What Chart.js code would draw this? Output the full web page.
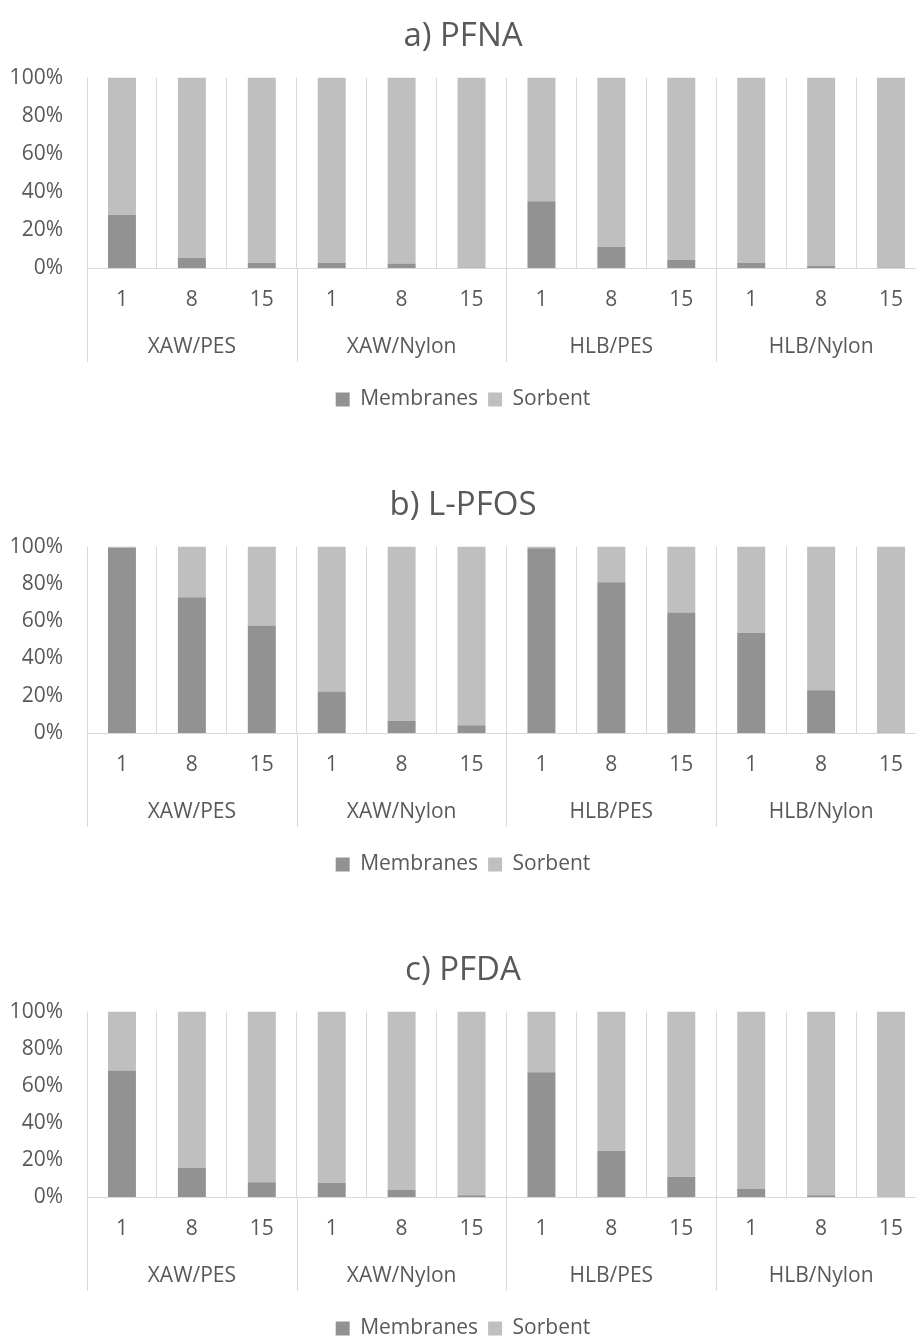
<!DOCTYPE html>
<html>
<head>
<meta charset="utf-8">
<script src="https://cdn.jsdelivr.net/npm/chart.js@4"></script>
<style>
  html, body { margin: 0; padding: 0; background: #fff; overflow: hidden; width: 916px; height: 1337px; }
  canvas { position: absolute; left: 0; }
</style>
</head>
<body>
<canvas id="chart-a" width="940" height="420" style="top:0px"></canvas>
<canvas id="chart-b" width="940" height="416" style="top:469px"></canvas>
<canvas id="chart-c" width="940" height="415" style="top:934px"></canvas>
<script>
const categories = ['1', '8', '15', '1', '8', '15', '1', '8', '15', '1', '8', '15'];
const groups = ['XAW/PES', 'XAW/Nylon', 'HLB/PES', 'HLB/Nylon'];
const seriesNames = ['Membranes', 'Sorbent'];

const pfnaMembranes = [28, 5.4, 2.8, 2.8, 2.3, 0.3, 35, 11, 4.2, 2.6, 1.0, 0.2];
const pfnaSorbent = [72, 94.6, 97.2, 97.2, 97.7, 99.7, 65, 89, 95.8, 97.4, 99.0, 99.8];

const pfosMembranes = [99.3, 72.8, 57.7, 22.3, 6.6, 4.1, 99.1, 80.9, 64.6, 53.8, 22.9, 0.3];
const pfosSorbent = [0.7, 27.2, 42.3, 77.7, 93.4, 95.9, 0.9, 19.1, 35.4, 46.2, 77.1, 99.7];

const pfdaMembranes = [68.2, 15.6, 8.0, 7.5, 3.8, 0.9, 67.3, 24.9, 10.9, 4.3, 0.9, 0.2];
const pfdaSorbent = [31.8, 84.4, 92.0, 92.5, 96.2, 99.1, 32.7, 75.1, 89.1, 95.7, 99.1, 99.8];

const COLORS = {
  membranes: '#929292',
  sorbent: '#bfbfbf',
  text: '#595959',
  grid: '#d9d9d9',
};
const FONT = "'Open Sans', sans-serif";

// group labels + separators under the category axis
const groupAxis = {
  id: 'groupAxis',
  afterDraw(chart) {
    const x = chart.scales.x;
    const area = chart.chartArea;
    const ctx = chart.ctx;
    const half = (x.getPixelForValue(1) - x.getPixelForValue(0)) / 2;
    ctx.save();
    ctx.strokeStyle = COLORS.grid;
    ctx.lineWidth = 1;
    for (let g = 0; g <= groups.length; g++) {
      const px = Math.round(x.getPixelForValue(g * 3) - half) + 0.5;
      ctx.beginPath();
      ctx.moveTo(px, area.bottom);
      ctx.lineTo(px, area.bottom + 94);
      ctx.stroke();
    }
    ctx.fillStyle = COLORS.text;
    ctx.font = `21px ${FONT}`;
    ctx.textAlign = 'center';
    ctx.textBaseline = 'middle';
    groups.forEach((name, g) => {
      ctx.fillText(name, x.getPixelForValue(g * 3 + 1), area.bottom + 79);
    });
    ctx.restore();
  },
};

function makeChart(id, title, membranes, sorbent) {
  const ctx = document.getElementById(id);
  return new Chart(ctx, {
    type: 'bar',
    data: {
      labels: categories,
      datasets: [
        { label: seriesNames[0], data: membranes, backgroundColor: COLORS.membranes, categoryPercentage: 1, barPercentage: 0.4 },
        { label: seriesNames[1], data: sorbent, backgroundColor: COLORS.sorbent, categoryPercentage: 1, barPercentage: 0.4 },
      ],
    },
    options: {
      responsive: false,
      animation: false,
      layout: { padding: { left: 0, right: 14, top: 0, bottom: 0 } },
      plugins: {
        title: {
          display: true,
          text: title,
          color: COLORS.text,
          font: { family: FONT, size: 33, weight: 'normal' },
          padding: { top: 17, bottom: 21 },
        },
        legend: {
          position: 'bottom',
          labels: {
            color: COLORS.text,
            font: { family: FONT, size: 21 },
            boxWidth: 14,
            boxHeight: 14,
            padding: 10,
          },
        },
        tooltip: { enabled: false },
      },
      scales: {
        x: {
          stacked: true,
          grid: { color: COLORS.grid, offset: true, drawTicks: false },
          border: { color: COLORS.grid },
          ticks: { color: COLORS.text, font: { family: FONT, size: 21 }, padding: 19, maxRotation: 0, autoSkip: false },
          afterFit(scale) { scale.height = 111; },
        },
        y: {
          stacked: true,
          min: 0,
          max: 100,
          grid: { display: false, drawTicks: false },
          border: { display: false },
          ticks: { stepSize: 20, color: COLORS.text, font: { family: FONT, size: 21 }, padding: 24, callback: v => v + '%' },
          afterFit(scale) { scale.width = 87; },
        },
      },
    },
    plugins: [groupAxis],
  });
}

makeChart('chart-a', 'a) PFNA', pfnaMembranes, pfnaSorbent);
makeChart('chart-b', 'b) L-PFOS', pfosMembranes, pfosSorbent);
makeChart('chart-c', 'c) PFDA', pfdaMembranes, pfdaSorbent);
</script>
</body>
</html>
